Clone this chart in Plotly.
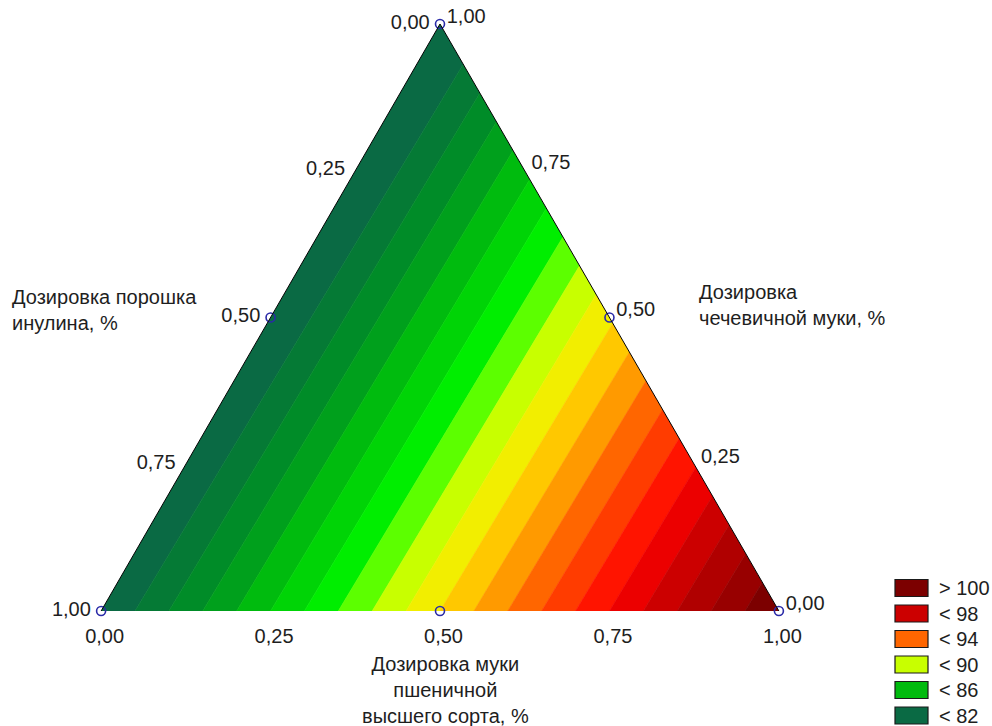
import numpy as np
import plotly.graph_objects as go

# Mixture components: a = lentil flour (top), b = inulin powder (bottom-left),
# c = premium wheat flour (bottom-right); fractions sum to 1.
vertex_response = [80.6, 81.0, 101.0]  # fitted response at each pure component

# Contour levels (step 1) and band colours, lowest band first
levels = list(range(82, 101))
band_colors = [
    "#0a6a44", "#057a35", "#008c28", "#00a01c", "#00bb0e",
    "#00d406", "#00ee00", "#5cff00", "#c8ff00", "#f2ee00",
    "#ffc800", "#ff9a00", "#ff6600", "#ff3c00", "#ff1400",
    "#ec0000", "#cc0000", "#b00000", "#980000", "#7c0000",
]

legend_labels = ["> 100", "< 98", "< 94", "< 90", "< 86", "< 82"]
legend_bands = [19, 16, 12, 8, 4, 0]

tick_vals = [0.0, 0.25, 0.5, 0.75, 1.0]

# Simplex-lattice design points (a, b, c)
design_a = [1.0, 0.0, 0.0, 0.5, 0.5, 0.0]
design_b = [0.0, 1.0, 0.0, 0.5, 0.0, 0.5]
design_c = [0.0, 0.0, 1.0, 0.0, 0.5, 0.5]

FONT = "Liberation Sans, Arial, sans-serif"
W, H = 992, 726


def response(p):
    return float(np.dot(vertex_response, p))


def clip(poly, level, keep_above):
    """Clip a polygon (barycentric points) by the half-plane response >= / <= level."""
    out = []
    n = len(poly)
    for i in range(n):
        p, q = poly[i], poly[(i + 1) % n]
        dp, dq = response(p) - level, response(q) - level
        if not keep_above:
            dp, dq = -dp, -dq
        if dp >= 0:
            out.append(p)
        if (dp >= 0) != (dq >= 0):
            t = dp / (dp - dq)
            out.append(p + t * (q - p))
    return out


def fmt(v):
    return f"{v:.2f}".replace(".", ",")


triangle = [np.array([1.0, 0, 0]), np.array([0, 1.0, 0]), np.array([0, 0, 1.0])]
bounds = [-np.inf] + levels + [np.inf]

fig = go.Figure()
for k, color in enumerate(band_colors):
    lo, hi = bounds[k], bounds[k + 1]
    poly = triangle
    if np.isfinite(lo):
        poly = clip(poly, lo, True)
    if np.isfinite(hi) and poly:
        poly = clip(poly, hi, False)
    if len(poly) < 3:
        continue
    pts = poly + [poly[0]]
    fig.add_trace(go.Scatterternary(
        a=[p[0] for p in pts], b=[p[1] for p in pts], c=[p[2] for p in pts],
        mode="lines", fill="toself", fillcolor=color,
        line=dict(color=color, width=0.6),
        hoverinfo="skip", showlegend=False,
    ))

fig.add_trace(go.Scatterternary(
    a=design_a, b=design_b, c=design_c, mode="markers",
    marker=dict(symbol="circle-open", size=9, color="#2b2ba8", line=dict(width=1.6)),
    cliponaxis=False, showlegend=False,
))

tick_font = dict(family=FONT, size=20, color="#1e1e1e")
axis_common = dict(
    title=dict(text=""),
    tickvals=tick_vals, showgrid=False,
    ticks="outside", ticklen=7, tickcolor="rgba(0,0,0,0)",
    tickfont=tick_font, linecolor="black", linewidth=1, min=0,
)

# Triangle placement (pixels)
tri_left, tri_right, tri_top, tri_bottom = 100, 780, 24, 611


def px_x(x):
    return x / W


def px_y(y):
    return (H - y) / H


fig.update_layout(
    width=W, height=H,
    margin=dict(l=0, r=0, t=0, b=0),
    paper_bgcolor="white",
    showlegend=False,
    ternary=dict(
        sum=1,
        bgcolor="white",
        domain=dict(x=[px_x(tri_left), px_x(tri_right)],
                    y=[px_y(tri_bottom), px_y(tri_top)]),
        aaxis=dict(axis_common, ticktext=[fmt(1 - v) for v in tick_vals], showline=True),
        baxis=dict(axis_common, ticktext=[fmt(1 - v) for v in tick_vals], showline=False),
        caxis=dict(axis_common, ticktext=[fmt(1 - v) for v in tick_vals], showline=True),
    ),
)

title_font = dict(family=FONT, size=20, color="#1e1e1e")
fig.add_annotation(text="Дозировка порошка<br>инулина, %", xref="paper", yref="paper",
                   x=px_x(10), y=px_y(310), xanchor="left", yanchor="middle",
                   align="left", showarrow=False, font=title_font)
fig.add_annotation(text="Дозировка<br>чечевичной муки, %", xref="paper", yref="paper",
                   x=px_x(697), y=px_y(305), xanchor="left", yanchor="middle",
                   align="left", showarrow=False, font=title_font)
fig.add_annotation(text="Дозировка муки<br>пшеничной<br>высшего сорта, %", xref="paper",
                   yref="paper", x=px_x(445), y=px_y(690), xanchor="center",
                   yanchor="middle", align="center", showarrow=False, font=title_font)

# Legend: colour swatches with level labels
row0, row_step, box_w, box_h, box_x = 588, 25.5, 33, 17, 895
for i, (label, band) in enumerate(zip(legend_labels, legend_bands)):
    yc = row0 + i * row_step
    fig.add_shape(type="rect", xref="paper", yref="paper",
                  x0=px_x(box_x), x1=px_x(box_x + box_w),
                  y0=px_y(yc + box_h / 2), y1=px_y(yc - box_h / 2),
                  fillcolor=band_colors[band], line=dict(color="#1a1a1a", width=1.2))
    fig.add_annotation(text=label, xref="paper", yref="paper",
                       x=px_x(box_x + box_w + 9), y=px_y(yc), xanchor="left",
                       yanchor="middle", showarrow=False, font=title_font)

fig.write_html("out.html")
